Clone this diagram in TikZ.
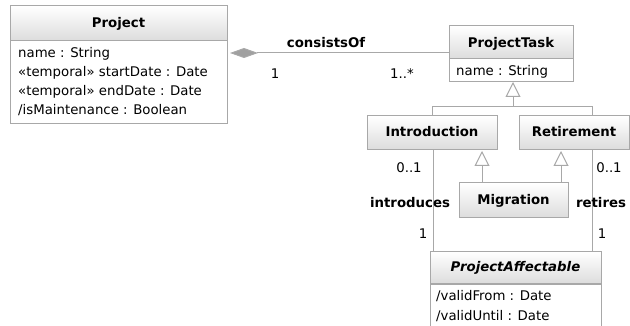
\documentclass[tikz,border=0pt]{standalone}
\usepackage{fontspec}
\setmainfont{DejaVu Sans}
\usetikzlibrary{arrows.meta}
\definecolor{linegray}{HTML}{A8A8A8}
\definecolor{hdrgray}{HTML}{DCDCDC}
\definecolor{dmdgray}{HTML}{A0A0A0}
\tikzset{
  umlbox/.style={draw=linegray, line width=1pt, fill=white, inner sep=0pt, outer sep=0pt},
  hdrshade/.style={top color=white, bottom color=hdrgray},
  cname/.style={font=\fontsize{13.3}{16}\selectfont\bfseries, inner sep=0pt, text height=10pt, text depth=3pt},
  attr/.style={font=\fontsize{13.3}{16}\selectfont, inner sep=0pt, anchor=west, text height=10pt, text depth=3pt},
  lbl/.style={font=\fontsize{13.3}{16}\selectfont, inner sep=0pt, text height=10pt, text depth=3pt},
  blbl/.style={font=\fontsize{13.3}{16}\selectfont\bfseries, inner sep=0pt, text height=10pt, text depth=3pt},
  conn/.style={draw=linegray, line width=1pt},
  gen/.style={conn, -{Triangle[open, length=15pt, width=15pt, fill=white]}},
}
\begin{document}
\begin{tikzpicture}[x=1pt, y=-1pt]
\useasboundingbox (0,0) rectangle (630,326);
% boxes
\node[umlbox, minimum width=217pt, minimum height=118pt] (project) at (118.5,65) {};
\node[umlbox, minimum width=124pt, minimum height=56pt] (ptask) at (511,54) {};
\node[umlbox, minimum width=130pt, minimum height=34pt, hdrshade] (intro) at (432,133) {};
\node[umlbox, minimum width=110pt, minimum height=34pt, hdrshade] (retire) at (574,133) {};
\node[umlbox, minimum width=109pt, minimum height=35pt, hdrshade] (mig) at (513.5,200.5) {};
\node[fill=white, inner sep=0pt, outer sep=0pt, minimum width=171pt, minimum height=74pt] (pa) at (515.5,289) {};
% header shading
\shade[hdrshade] (10,6) rectangle (227,41);
\shade[hdrshade] (449,26) rectangle (573,59);
\shade[hdrshade] (430,252) rectangle (601,284);
\draw[draw=linegray, line width=1pt] (project.north west) rectangle (project.south east);
\draw[draw=linegray, line width=1pt] (ptask.north west) rectangle (ptask.south east);
\draw[conn] (pa.south west) -- (pa.north west) -- (pa.north east) -- (pa.south east);
\draw[conn] (10,41) -- (227,41);
\draw[conn] (449,59) -- (573,59);
\draw[conn] (430,284) -- (601,284);
% class names
\node[cname] (projectT) at (118.5,24) {Project};
\node[cname] (ptaskT) at (511,44) {ProjectTask};
\node[cname] (introT) at (432,133) {Introduction};
\node[cname] (retireT) at (574,133) {Retirement};
\node[cname] (migT) at (513.5,201) {Migration};
\node[cname, font=\fontsize{13.3}{16}\selectfont\bfseries\itshape] (paT) at (515.5,268) {ProjectAffectable};
% attributes
\node[attr] (a1) at (18,54) {name : String};
\node[attr] (a2) at (18,73) {«temporal» startDate : Date};
\node[attr] (a3) at (18,92.5) {«temporal» endDate : Date};
\node[attr] (a4) at (18,111.5) {/isMaintenance : Boolean};
\node[attr] (a5) at (456,72) {name : String};
\node[attr] (a6) at (436,297) {/validFrom : Date};
\node[attr] (a7) at (436,316.5) {/validUntil : Date};
% composition
\coordinate (cstart) at (230,53);
\draw[conn, {Diamond[length=28pt, width=10pt, fill=dmdgray]}-] (cstart) -- (cstart -| ptask.west);
\node[blbl] (lcons) at (326,44) {consistsOf};
\node[lbl] (lc1) at (275,75) {1};
\node[lbl] (lc2) at (402,75) {1..*};
% generalization ProjectTask
\coordinate (gj) at (513,107);
\coordinate (rj) at (592,107);
\draw[conn] (intro.north) |- (rj) -- (rj |- retire.north);
\draw[gen] (gj) -- (gj |- ptask.south);
% generalization Migration
\coordinate (m1) at (482,183);
\coordinate (m2) at (561,183);
\draw[gen] (m1) -- ([yshift=-1pt]m1 |- intro.south);
\draw[gen] (m2) -- ([yshift=-1pt]m2 |- retire.south);
% associations
\coordinate (as1) at (433,150);
\draw[conn] (as1) -- (as1 |- pa.north);
\draw[conn] (rj |- retire.south) -- (rj |- pa.north);
\node[lbl] (l01a) at (409,169) {0..1};
\node[lbl] (l01b) at (609,169) {0..1};
\node[blbl] (lint) at (410,204) {introduces};
\node[blbl] (lret) at (601,204) {retires};
\node[lbl] (l1a) at (423,235) {1};
\node[lbl] (l1b) at (602,235) {1};
\end{tikzpicture}
\end{document}
